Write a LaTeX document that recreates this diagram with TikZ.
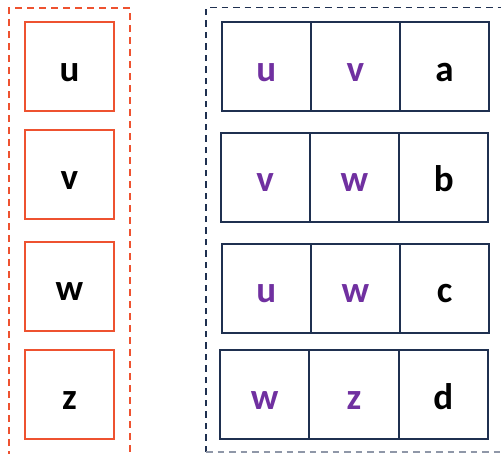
\documentclass[tikz,border=0pt]{standalone}
\usepackage{fontspec}
\setmainfont{Carlito}
\definecolor{orng}{HTML}{EE5230}
\definecolor{navy}{HTML}{1F3050}
\definecolor{purp}{HTML}{7030A0}
\tikzset{
  cellbase/.style={rectangle, inner sep=0pt, line width=2pt, text height=29pt, text depth=0pt,
    font=\fontsize{37}{40}\selectfont\bfseries},
  leftbox/.style={cellbase, draw=orng, minimum width=89pt, minimum height=89pt},
  gridcell/.style={cellbase, draw=navy, minimum width=89.3pt, minimum height=89pt},
  keytxt/.style={text=purp},
  valtxt/.style={text=black},
  lframe/.style={draw=orng, line width=1.8pt, dash pattern=on 7pt off 5pt},
  rframe/.style={draw=navy, line width=1.8pt, dash pattern=on 6.5pt off 5pt}
}
\begin{document}
\begin{tikzpicture}[x=1pt,y=-1pt]
\useasboundingbox (0,0) rectangle (501,453);
\begin{scope}
\clip (0,0) rectangle (501,453);
% frames
\draw[lframe] (9,470) -- (9,8) -- (130,8) -- (130,470);
\draw[rframe] (206,452) -- (206,7.5) -- (520,7.5);
\draw[rframe, draw=navy!50] (206,452) -- (520,452);
\end{scope}
% left column
\node[leftbox] (lu) at (69.5,66.5) {u};
\node[leftbox] (lv) at (69.5,174.5) {v};
\node[leftbox] (lw) at (69.5,286) {w};
\node[leftbox] (lz) at (69.5,394.5) {z};
% right grid
\node[gridcell,keytxt] (r1a) at (266.2,66.5) {u};
\node[gridcell,keytxt] (r1b) at (355.4,66.5) {v};
\node[gridcell,valtxt] (r1c) at (444.5,66.5) {a};
\node[gridcell,keytxt] (r2a) at (265.2,177) {v};
\node[gridcell,keytxt] (r2b) at (354.5,177) {w};
\node[gridcell,valtxt] (r2c) at (443.7,177) {b};
\node[gridcell,keytxt] (r3a) at (266.2,288.3) {u};
\node[gridcell,keytxt] (r3b) at (355.4,288.3) {w};
\node[gridcell,valtxt] (r3c) at (444.5,288.3) {c};
\node[gridcell,keytxt] (r4a) at (264.7,394.5) {w};
\node[gridcell,keytxt] (r4b) at (353.9,394.5) {z};
\node[gridcell,valtxt] (r4c) at (443.2,394.5) {d};
\end{tikzpicture}
\end{document}
